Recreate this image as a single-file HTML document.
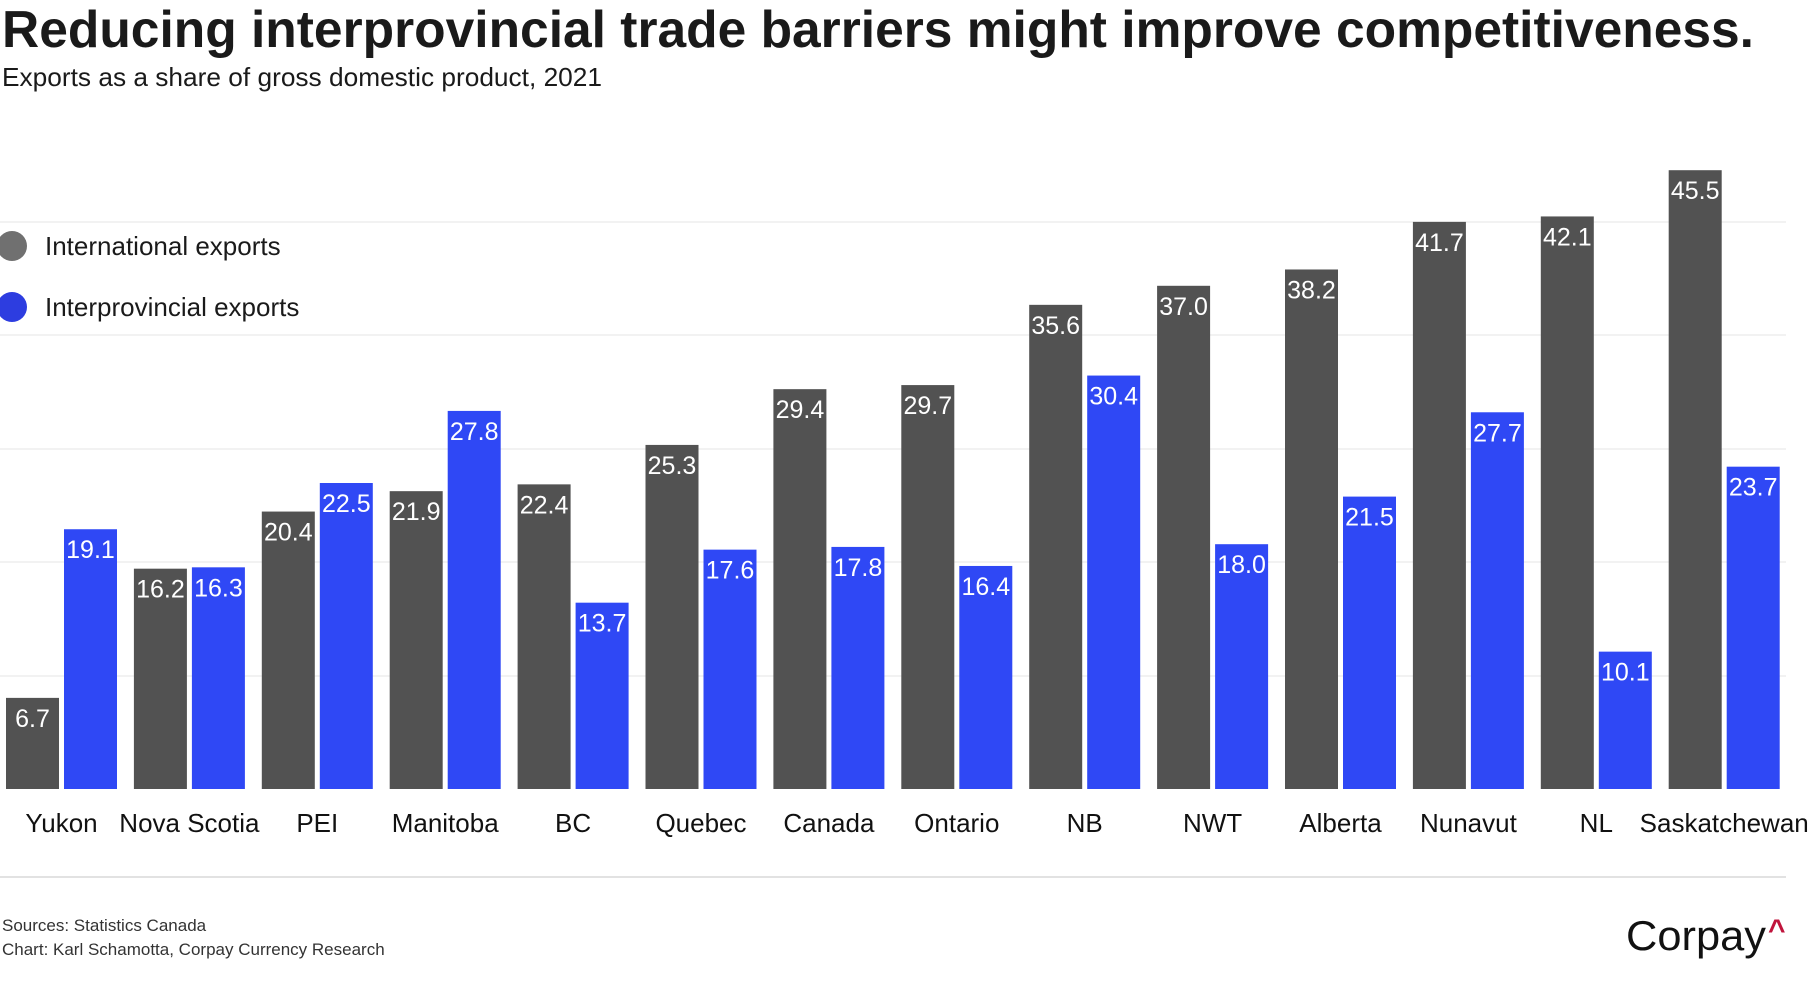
<!DOCTYPE html>
<html><head><meta charset="utf-8"><style>
html,body{margin:0;padding:0;background:#fff;}
svg{display:block;font-family:"Liberation Sans",sans-serif;}
</style></head><body>
<svg id="s" width="1810" height="1000" xmlns="http://www.w3.org/2000/svg">
<text x="2" y="47" font-size="52" font-weight="bold" fill="#1a1a1a" textLength="1752" lengthAdjust="spacingAndGlyphs">Reducing interprovincial trade barriers might improve competitiveness.</text>
<text x="2" y="86" font-size="26" fill="#1a1a1a" textLength="600" lengthAdjust="spacingAndGlyphs">Exports as a share of gross domestic product, 2021</text>
<g stroke="#eeeeee" stroke-width="1.5">
<line x1="0" x2="1786" y1="222" y2="222"/><line x1="0" x2="1786" y1="335" y2="335"/>
<line x1="0" x2="1786" y1="449" y2="449"/><line x1="0" x2="1786" y1="562" y2="562"/>
<line x1="0" x2="1786" y1="676" y2="676"/>
</g>
<line x1="0" x2="1786" y1="877" y2="877" stroke="#d8d8d8" stroke-width="1.5"/>
<circle cx="12" cy="246" r="15" fill="#707070"/>
<circle cx="12" cy="307" r="15" fill="#2d3de0"/>
<text x="45" y="255" font-size="26" fill="#1a1a1a">International exports</text>
<text x="45" y="316" font-size="26" fill="#1a1a1a">Interprovincial exports</text>
<g id="bars"></g>
<text x="2" y="931" font-size="17" fill="#333">Sources: Statistics Canada</text>
<text x="2" y="955" font-size="17" fill="#333">Chart: Karl Schamotta, Corpay Currency Research</text>
<text x="1626" y="950" font-size="42" fill="#111" textLength="140" lengthAdjust="spacingAndGlyphs">Corpay</text>
<text x="1768" y="940" font-size="30" font-weight="bold" fill="#c0143c">^</text>
</svg>
<script>
var d=[["Yukon",6.7,19.1],["Nova Scotia",16.2,16.3],["PEI",20.4,22.5],["Manitoba",21.9,27.8],["BC",22.4,13.7],["Quebec",25.3,17.6],["Canada",29.4,17.8],["Ontario",29.7,16.4],["NB",35.6,30.4],["NWT",37.0,18.0],["Alberta",38.2,21.5],["Nunavut",41.7,27.7],["NL",42.1,10.1],["Saskatchewan",45.5,23.7]];
var g=document.getElementById("bars"),h="",base=789,k=13.6;
d.forEach(function(r,i){
 var x=6+i*127.9;
 [[r[1],x,"#525252"],[r[2],x+58,"#2f48f5"]].forEach(function(b){
  var t=base-b[0]*k;
  h+='<rect x="'+b[1]+'" y="'+t+'" width="53" height="'+(base-t)+'" fill="'+b[2]+'"/>';
  h+='<text x="'+(b[1]+26.5)+'" y="'+(t+29)+'" font-size="25" fill="#fff" text-anchor="middle">'+b[0].toFixed(1)+'</text>';
 });
 h+='<text x="'+(x+55.5)+'" y="832" font-size="26" fill="#111" text-anchor="middle">'+r[0]+'</text>';
});
g.innerHTML=h;
</script>
</body></html>
